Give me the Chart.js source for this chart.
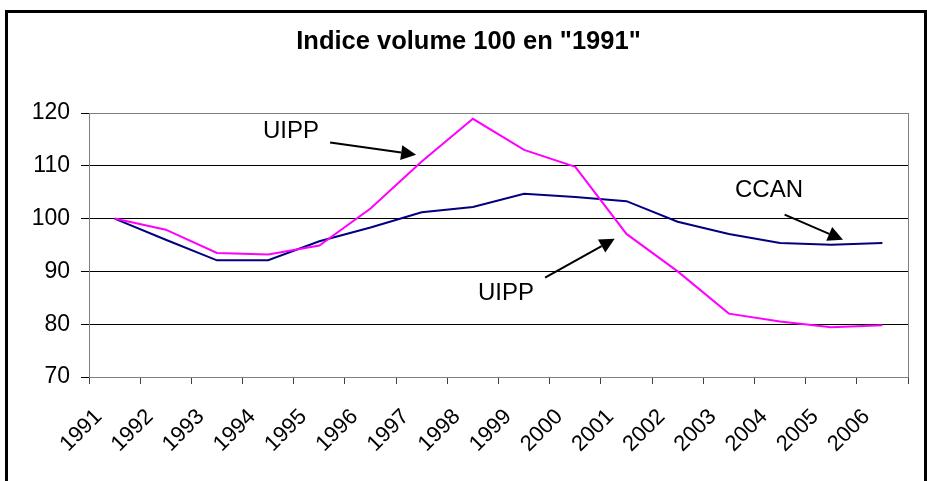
<!DOCTYPE html>
<html>
<head>
<meta charset="utf-8">
<script src="https://cdn.jsdelivr.net/npm/chart.js@4"></script>
<style>
  html, body { margin: 0; padding: 0; background: #fff; overflow: hidden; }
  #wrap { position: relative; width: 927px; height: 481px; overflow: hidden; }
  #frame { position: absolute; left: 5px; top: 10px; width: 922px; height: 600px;
           border: 3px solid #000; box-sizing: border-box; pointer-events: none; }
  canvas { position: absolute; left: 0; top: 0; }
</style>
</head>
<body>
<div id="wrap">
  <canvas id="c" width="927" height="481"></canvas>
  <div id="frame"></div>
</div>
<script>
const categories = ['1991','1992','1993','1994','1995','1996','1997','1998','1999','2000','2001','2002','2003','2004','2005','2006'];
const uippValues = [100, 97.9, 93.5, 93.2, 94.9, 101.9, 110.8, 118.9, 113.0, 109.8, 97.1, 90.0, 82.0, 80.5, 79.4, 79.8];
const ccanValues = [100, 96.0, 92.1, 92.1, 95.7, 98.3, 101.2, 102.2, 104.7, 104.1, 103.3, 99.4, 97.1, 95.4, 95.05, 95.4];
const yTicks = [70, 80, 90, 100, 110, 120];
const titleText = 'Indice volume 100 en "1991"';

const FONT = "'Liberation Sans', Arial, sans-serif";

// annotations placed in data coordinates (category index, value)
const annotations = {
  texts: [
    { text: 'UIPP', x: 2.9,  y: 116.6 },
    { text: 'UIPP', x: 7.1,  y: 85.8 },
    { text: 'CCAN', x: 12.12, y: 105.4 }
  ],
  arrows: [
    { x1: 4.21, y1: 114.4, x2: 5.89, y2: 112.1 },
    { x1: 8.41, y1: 88.8,  x2: 9.77, y2: 96.2 },
    { x1: 13.09, y1: 100.74, x2: 14.23, y2: 96.0 }
  ]
};

const framePlugin = {
  id: 'plotFrame',
  beforeDatasetsDraw(chart) {
    const { ctx, chartArea: a } = chart;
    ctx.save();
    ctx.strokeStyle = '#808080';
    ctx.lineWidth = 1;
    ctx.strokeRect(Math.round(a.left) + 0.5, Math.round(a.top) + 0.5,
                   Math.round(a.right - a.left), Math.round(a.bottom - a.top));
    ctx.restore();
  }
};

const annotationPlugin = {
  id: 'arrowNotes',
  afterDatasetsDraw(chart) {
    const { ctx, scales } = chart;
    const xs = scales.x, ys = scales.y;
    ctx.save();
    ctx.fillStyle = '#000';
    ctx.font = '24px ' + FONT;
    ctx.textAlign = 'left';
    ctx.textBaseline = 'middle';
    annotations.texts.forEach(t => {
      ctx.fillText(t.text, xs.getPixelForValue(t.x), ys.getPixelForValue(t.y));
    });
    ctx.strokeStyle = '#000';
    ctx.lineWidth = 2;
    annotations.arrows.forEach(a => {
      const x1 = xs.getPixelForValue(a.x1), y1 = ys.getPixelForValue(a.y1);
      const x2 = xs.getPixelForValue(a.x2), y2 = ys.getPixelForValue(a.y2);
      const ang = Math.atan2(y2 - y1, x2 - x1);
      const hl = 15, hw = 7.5;
      const bx = x2 - hl * Math.cos(ang), by = y2 - hl * Math.sin(ang);
      ctx.beginPath();
      ctx.moveTo(x1, y1);
      ctx.lineTo(bx, by);
      ctx.stroke();
      ctx.beginPath();
      ctx.moveTo(x2, y2);
      ctx.lineTo(bx + hw * Math.sin(ang), by - hw * Math.cos(ang));
      ctx.lineTo(bx - hw * Math.sin(ang), by + hw * Math.cos(ang));
      ctx.closePath();
      ctx.fill();
    });
    ctx.restore();
  }
};

new Chart(document.getElementById('c'), {
  type: 'line',
  data: {
    labels: categories,
    datasets: [
      { label: 'UIPP', data: uippValues, borderColor: '#ff00ff', backgroundColor: '#ff00ff',
        borderWidth: 2, pointRadius: 0, tension: 0, fill: false },
      { label: 'CCAN', data: ccanValues, borderColor: '#000080', backgroundColor: '#000080',
        borderWidth: 2, pointRadius: 0, tension: 0, fill: false }
    ]
  },
  options: {
    responsive: false,
    animation: false,
    events: [],
    layout: { padding: { left: 10, right: 0, top: 0, bottom: 0 } },
    plugins: {
      legend: { display: false },
      tooltip: { enabled: false },
      title: {
        display: true,
        text: titleText,
        color: '#000',
        font: { family: FONT, size: 25.5, weight: 'bold' },
        padding: { top: 27, bottom: 55.4 }
      }
    },
    scales: {
      x: {
        type: 'category',
        offset: true,
        grid: { display: true, offset: true, drawOnChartArea: false, drawTicks: true,
                tickLength: 7, color: '#404040', tickColor: '#404040' },
        border: { display: true, color: '#808080', width: 1 },
        ticks: {
          color: '#000', autoSkip: false, minRotation: 45, maxRotation: 45,
          padding: 20, labelOffset: -16,
          font: { family: FONT, size: 22 }
        },
        afterFit(scale) { scale.height = 104; }
      },
      y: {
        min: 70, max: 120,
        afterBuildTicks(scale) { scale.ticks = yTicks.map(v => ({ value: v })); },
        grid: {
          drawTicks: true, tickLength: 8,
          color: ctx => (ctx.tick && (ctx.tick.value === 70 || ctx.tick.value === 120)) ? '#808080' : '#000',
          tickColor: '#000', lineWidth: 1
        },
        border: { display: true, color: '#808080', width: 1 },
        ticks: { color: '#000', padding: 11, font: { family: FONT, size: 23 } },
        afterFit(scale) { scale.width = 79; }
      },
      yRight: {
        position: 'right',
        min: 70, max: 120,
        display: true,
        grid: { display: false, drawTicks: false },
        border: { display: false },
        ticks: { display: false },
        afterFit(scale) { scale.width = 19; }
      }
    }
  },
  plugins: [framePlugin, annotationPlugin]
});
</script>
</body>
</html>
